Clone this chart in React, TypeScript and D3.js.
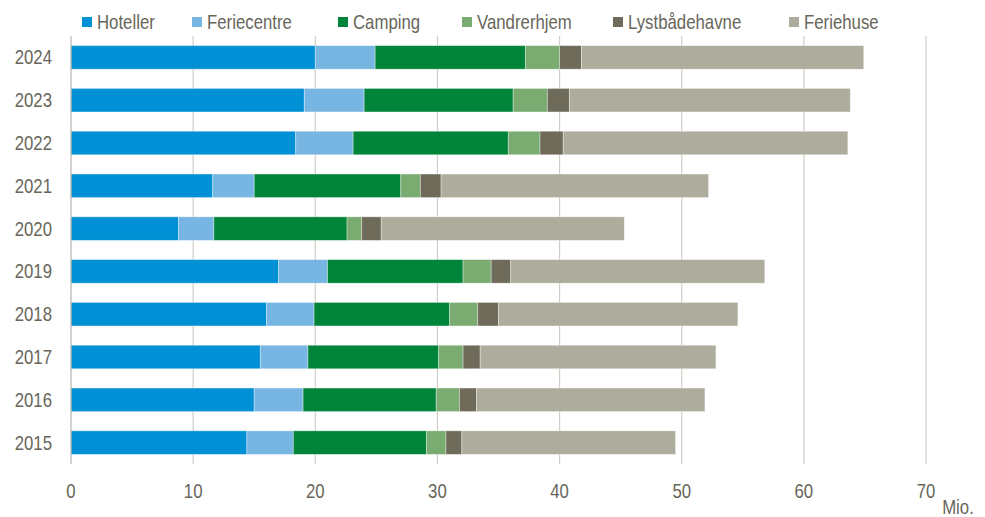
import { useEffect, useRef } from 'react';
import * as d3 from 'd3';

// Overnatninger (mio.) pr. år og overnatningsform
const years = ['2015', '2016', '2017', '2018', '2019', '2020', '2021', '2022', '2023', '2024'];
const hoteller = [14.4, 15.0, 15.5, 16.0, 17.0, 8.8, 11.6, 18.4, 19.1, 20.0];
const feriecentre = [3.8, 4.0, 3.9, 3.9, 4.0, 2.9, 3.4, 4.7, 4.9, 4.9];
const camping = [10.9, 10.9, 10.7, 11.1, 11.1, 10.9, 12.0, 12.7, 12.2, 12.3];
const vandrerhjem = [1.6, 1.9, 2.0, 2.3, 2.3, 1.2, 1.6, 2.6, 2.8, 2.8];
const lystbaadehavne = [1.3, 1.4, 1.4, 1.7, 1.6, 1.6, 1.7, 1.9, 1.8, 1.8];
const feriehuse = [17.5, 18.7, 19.3, 19.6, 20.8, 19.9, 21.9, 23.3, 23.0, 23.1];

const seriesNames = ['Hoteller', 'Feriecentre', 'Camping', 'Vandrerhjem', 'Lystbådehavne', 'Feriehuse'];
const seriesValues = [hoteller, feriecentre, camping, vandrerhjem, lystbaadehavne, feriehuse];
const seriesColors = ['#0090d6', '#77b5e3', '#00843a', '#7aab70', '#6e6b5a', '#aeac9c'];
const xTicks = [0, 10, 20, 30, 40, 50, 60, 70];

const width = 985;
const height = 517;
const margin = { top: 36, right: 59, bottom: 53, left: 71 };
const font = '"Liberation Sans", Arial, sans-serif';
const fontSize = 20;
const squeeze = 0.84; // the labels are set in a narrow face
const textColor = '#67665a';

// legend square x positions, taken from the layout
const legendX = [82, 192, 338, 462, 613, 789];

export default function App() {
  const svgRef = useRef<SVGSVGElement>(null);

  useEffect(() => {
    if (!svgRef.current) return;
    const svg = d3.select(svgRef.current);
    svg.selectAll('*').remove();

    const table = years.map((y, i) => {
      const row: Record<string, number | string> = { year: y };
      seriesNames.forEach((n, s) => (row[n] = seriesValues[s][i]));
      return row;
    });
    const stacked = d3.stack<any>().keys(seriesNames)(table);

    const innerH = height - margin.top - margin.bottom;

    const x = d3.scaleLinear().domain([0, 70]).range([margin.left, margin.left + 855]);
    const y = d3
      .scaleBand()
      .domain([...years].reverse())
      .range([margin.top, margin.top + innerH])
      .paddingInner(0.45)
      .paddingOuter(0.225);

    const label = (
      sel: d3.Selection<any, any, any, any>,
      px: (d: any) => number,
      py: (d: any) => number,
      anchor: string,
    ) =>
      sel
        .attr('transform', (d) => `translate(${px(d)},${py(d)}) scale(${squeeze},1)`)
        .attr('text-anchor', anchor)
        .attr('font-family', font)
        .attr('font-size', fontSize)
        .attr('fill', textColor);

    // gridlines
    svg
      .append('g')
      .selectAll('line')
      .data(xTicks.filter((t) => t > 0))
      .join('line')
      .attr('x1', (d) => x(d))
      .attr('x2', (d) => x(d))
      .attr('y1', margin.top)
      .attr('y2', margin.top + innerH)
      .attr('stroke', '#cfcec6')
      .attr('stroke-width', 1.2);

    // bars
    svg
      .append('g')
      .selectAll('g')
      .data(stacked)
      .join('g')
      .attr('fill', (_, i) => seriesColors[i])
      .selectAll('rect')
      .data((d) => d)
      .join('rect')
      .attr('x', (d) => x(d[0]))
      .attr('y', (d) => y(d.data.year as string) ?? 0)
      .attr('width', (d) => x(d[1]) - x(d[0]))
      .attr('height', y.bandwidth())
      .attr('stroke', '#ffffff')
      .attr('stroke-opacity', 0.45)
      .attr('stroke-width', 0.8);

    // y axis line
    svg
      .append('line')
      .attr('x1', x(0))
      .attr('x2', x(0))
      .attr('y1', margin.top)
      .attr('y2', margin.top + innerH)
      .attr('stroke', '#b5b4aa')
      .attr('stroke-width', 1.2);

    // year labels
    label(
      svg.append('g').selectAll('text').data(years).join('text'),
      () => 52,
      (d) => (y(d) ?? 0) + y.bandwidth() / 2 + 7,
      'end',
    ).text((d) => d);

    // x tick labels
    label(
      svg.append('g').selectAll('text').data(xTicks).join('text'),
      (d) => x(d),
      () => 498,
      'middle',
    ).text((d) => d);

    label(svg.append('text').datum('Mio.'), () => 958, () => 514, 'middle').text('Mio.');

    // legend
    const legend = svg
      .append('g')
      .selectAll('g')
      .data(seriesNames)
      .join('g')
      .attr('transform', (_, i) => `translate(${legendX[i]},22)`);
    legend
      .append('rect')
      .attr('x', 0)
      .attr('y', -5)
      .attr('width', 10)
      .attr('height', 10)
      .attr('fill', (_, i) => seriesColors[i]);
    label(legend.append('text'), () => 15, () => 7, 'start').text((d) => d);
  }, []);

  return (
    <svg
      ref={svgRef}
      width={width}
      height={height}
      style={{ position: 'absolute', left: 0, top: 0, background: '#fff' }}
    />
  );
}
